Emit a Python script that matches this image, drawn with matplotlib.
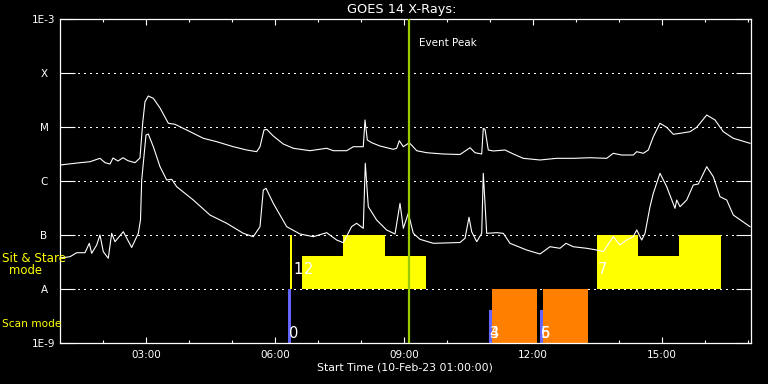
import matplotlib
matplotlib.use('Agg')
import matplotlib.pyplot as plt
import numpy as np
from matplotlib.ticker import FixedLocator, NullLocator

# ---------------- data (hours since 00:00 of 10-Feb-23, log10 flux W/m^2) ----------------
long_hours = [1.000, 1.465, 1.698, 1.814, 1.930, 2.047, 2.163, 2.233, 2.349, 2.465, 2.581, 2.744,
              2.860, 2.923, 2.977, 3.053, 3.170, 3.326, 3.519, 3.674, 3.947, 4.333, 4.644, 5.030,
              5.342, 5.574, 5.651, 5.744, 5.807, 5.960, 6.193, 6.426, 6.814, 7.202, 7.356, 7.667,
              7.821, 7.937, 8.053, 8.093, 8.147, 8.249, 8.442, 8.751, 8.830, 8.891, 8.984, 9.123,
              9.295, 9.528, 9.914, 10.302, 10.458, 10.535, 10.651, 10.807, 10.844, 10.884, 10.960,
              11.077, 11.349, 11.542, 11.774, 12.163, 12.551, 12.937, 13.326, 13.714, 13.867,
              14.063, 14.333, 14.412, 14.565, 14.681, 14.798, 14.953, 15.109, 15.263, 15.419,
              15.651, 15.807, 16.040, 16.233, 16.426, 16.658, 17.047]
long_log = [-5.704, -5.661, -5.643, -5.611, -5.580, -5.661, -5.685, -5.574, -5.630, -5.569, -5.624,
            -5.661, -5.574, -4.926, -4.531, -4.426, -4.469, -4.648, -4.931, -4.950, -5.056, -5.209,
            -5.272, -5.365, -5.426, -5.457, -5.365, -5.056, -5.043, -5.167, -5.315, -5.394, -5.439,
            -5.394, -5.439, -5.439, -5.365, -5.365, -5.365, -4.870, -5.241, -5.291, -5.352, -5.413,
            -5.394, -5.254, -5.365, -5.291, -5.439, -5.476, -5.500, -5.509, -5.426, -5.383, -5.476,
            -5.500, -5.024, -5.043, -5.426, -5.444, -5.426, -5.500, -5.580, -5.611, -5.580, -5.580,
            -5.569, -5.580, -5.487, -5.519, -5.519, -5.457, -5.487, -5.426, -5.180, -4.931, -5.006,
            -5.135, -5.117, -5.087, -5.006, -4.778, -4.870, -5.087, -5.209, -5.302]

short_hours = [1.000, 1.233, 1.388, 1.581, 1.681, 1.737, 1.853, 1.930, 2.007, 2.123, 2.202, 2.279,
               2.472, 2.667, 2.821, 2.872, 2.900, 3.000, 3.053, 3.170, 3.326, 3.481, 3.598, 3.714,
               4.100, 4.488, 4.877, 5.263, 5.495, 5.651, 5.728, 5.791, 5.960, 6.272, 6.581, 6.891,
               7.202, 7.435, 7.588, 7.781, 7.898, 8.053, 8.100, 8.170, 8.363, 8.595, 8.791, 8.907,
               8.984, 9.100, 9.216, 9.372, 9.681, 10.302, 10.419, 10.512, 10.574, 10.691, 10.807,
               10.844, 10.923, 11.156, 11.309, 11.465, 11.853, 12.163, 12.395, 12.628, 12.767,
               12.937, 13.247, 13.481, 13.635, 13.867, 14.023, 14.179, 14.333, 14.412, 14.528,
               14.605, 14.721, 14.798, 14.953, 15.109, 15.302, 15.342, 15.419, 15.574, 15.728,
               15.844, 16.040, 16.193, 16.349, 16.505, 16.658, 17.047]
short_log = [-7.426, -7.402, -7.328, -7.328, -7.154, -7.339, -7.185, -7.000, -7.309, -7.431, -6.969,
             -7.124, -6.939, -7.231, -6.969, -6.722, -5.981, -5.148, -5.130, -5.365, -5.735, -5.981,
             -5.969, -6.106, -6.352, -6.630, -6.783, -6.969, -7.031, -6.846, -6.167, -6.135, -6.413,
             -6.846, -6.981, -7.031, -6.957, -7.093, -7.143, -6.846, -6.783, -6.876, -5.672, -6.476,
             -6.722, -6.907, -6.981, -6.413, -6.876, -6.598, -6.969, -7.080, -7.154, -7.139, -7.061,
             -6.672, -6.939, -7.124, -6.969, -5.857, -6.969, -6.957, -6.969, -7.154, -7.278, -7.352,
             -7.217, -7.246, -7.154, -7.217, -7.246, -7.278, -7.309, -7.031, -7.185, -7.093, -7.031,
             -6.907, -7.093, -6.969, -6.476, -6.228, -5.857, -6.106, -6.506, -6.352, -6.476, -6.352,
             -6.074, -6.056, -5.735, -5.920, -6.291, -6.352, -6.630, -6.846]

# Sit & Stare blocks: start, end, top flux (bottom = 1e-8)
sit_start = [6.35, 6.63, 7.58, 13.49, 13.49, 15.40]
sit_end = [6.40, 9.51, 8.56, 16.37, 14.44, 16.37]
sit_top = [1e-7, 4.1e-8, 1e-7, 4.1e-8, 1e-7, 1e-7]

# Scan mode blocks: start, end, top flux (bottom = 1e-9), kind
scan_start = [6.30, 10.98, 11.05, 12.16, 12.23]
scan_end = [6.37, 11.05, 12.09, 12.23, 13.28]
scan_top = [1e-8, 4.1e-9, 1e-8, 4.1e-9, 1e-8]
scan_kind = ['short', 'short', 'long', 'short', 'long']

# Event number labels
event_labels = ['0', '1', '2', '3', '4', '5', '6', '7']
event_x = [6.33, 6.42, 6.68, 10.99, 10.99, 12.18, 12.18, 13.51]
event_y = [1.53e-9, 2.25e-8, 2.25e-8, 1.53e-9, 1.53e-9, 1.53e-9, 1.53e-9, 2.25e-8]

peak_hour = 9.12

xtick_hours = [3, 6, 9, 12, 15]
xtick_labels = ['03:00', '06:00', '09:00', '12:00', '15:00']
ytick_vals = [1e-9, 1e-8, 1e-7, 1e-6, 1e-5, 1e-4, 1e-3]
ytick_labels = ['1E-9', 'A', 'B', 'C', 'M', 'X', '1E-3']

# ---------------- figure ----------------
W, H = 768, 384
fig = plt.figure(figsize=(W / 100, H / 100), dpi=100, facecolor='black')
ax = fig.add_axes([60 / W, 41 / H, 691 / W, 324 / H])
ax.set_facecolor('black')
ax.set_yscale('log')
ax.set_ylim(1e-9, 1e-3)
ax.set_xlim(1.0, 1 + 691 / 43)

# dotted grid lines
for yv in ytick_vals[1:-1]:
    ax.axhline(yv, color='white', lw=0.72, ls=(0, (1.4, 5)), antialiased=False, zorder=1)

# Sit & Stare blocks
for s, e, t in zip(sit_start, sit_end, sit_top):
    ax.bar(s, t - 1e-8, bottom=1e-8, width=e - s, align='edge', color='#FFFF00',
           edgecolor='none', linewidth=0, zorder=2)
# Scan blocks
for s, e, t, k in zip(scan_start, scan_end, scan_top, scan_kind):
    c = '#6464FF' if k == 'short' else '#FF8000'
    ax.bar(s, t - 1e-9, bottom=1e-9, width=e - s, align='edge', color=c,
           edgecolor='none', linewidth=0, zorder=2)

# curves
ax.plot(long_hours, 10 ** np.array(long_log), color='white', lw=0.8, zorder=3)
ax.plot(short_hours, 10 ** np.array(short_log), color='white', lw=0.8, zorder=3)

# event peak
ax.axvline(peak_hour, color='#99CC00', lw=1.6, zorder=4)
ax.text(9.35, 3.6e-4, 'Event Peak', color='white', fontsize=7.5, ha='left', va='center')

# event labels
for lab, x, y in zip(event_labels, event_x, event_y):
    ax.text(x, y, lab, color='white', fontsize=10.5, ha='left', va='center', zorder=5)

# spines & ticks
for sp in ax.spines.values():
    sp.set_color('white')
    sp.set_linewidth(0.9)

ax.yaxis.set_major_locator(FixedLocator(ytick_vals))
ax.yaxis.set_minor_locator(NullLocator())
ax.set_yticklabels(ytick_labels)
ax.tick_params(axis='y', which='major', direction='in', length=10.5, width=0.8,
               color='white', left=True, right=True, labelcolor='white', labelsize=7.5, pad=11.5)
for lab in ax.get_yticklabels():
    lab.set_horizontalalignment('center')

ax.xaxis.set_major_locator(FixedLocator(xtick_hours))
ax.set_xticklabels(xtick_labels)
ax.xaxis.set_minor_locator(FixedLocator([h for h in range(2, 18) if h not in xtick_hours]))
ax.tick_params(axis='x', which='major', direction='in', length=4.3, width=0.8,
               color='white', top=True, bottom=True, labelcolor='white', labelsize=7.5, pad=5)
ax.tick_params(axis='x', which='minor', direction='in', length=2.2, width=0.8,
               color='white', top=True, bottom=True)

# texts
fig.text(402 / W, 1 - 10 / H, 'GOES 14 X-Rays:', color='white', fontsize=9.3,
         ha='center', va='center')
fig.text(405 / W, 1 - 368 / H, 'Start Time (10-Feb-23 01:00:00)', color='white', fontsize=7.8,
         ha='center', va='center')
fig.text(2 / W, 1 - 258 / H, 'Sit & Stare', color='#FFFF00', fontsize=8.6, ha='left', va='center')
fig.text(25 / W, 1 - 271 / H, 'mode', color='#FFFF00', fontsize=8.4, ha='center', va='center')
fig.text(2 / W, 1 - 324 / H, 'Scan mode', color='#FFFF00', fontsize=7.6, ha='left', va='center')

fig.savefig('out.png', dpi=100, facecolor='black')
